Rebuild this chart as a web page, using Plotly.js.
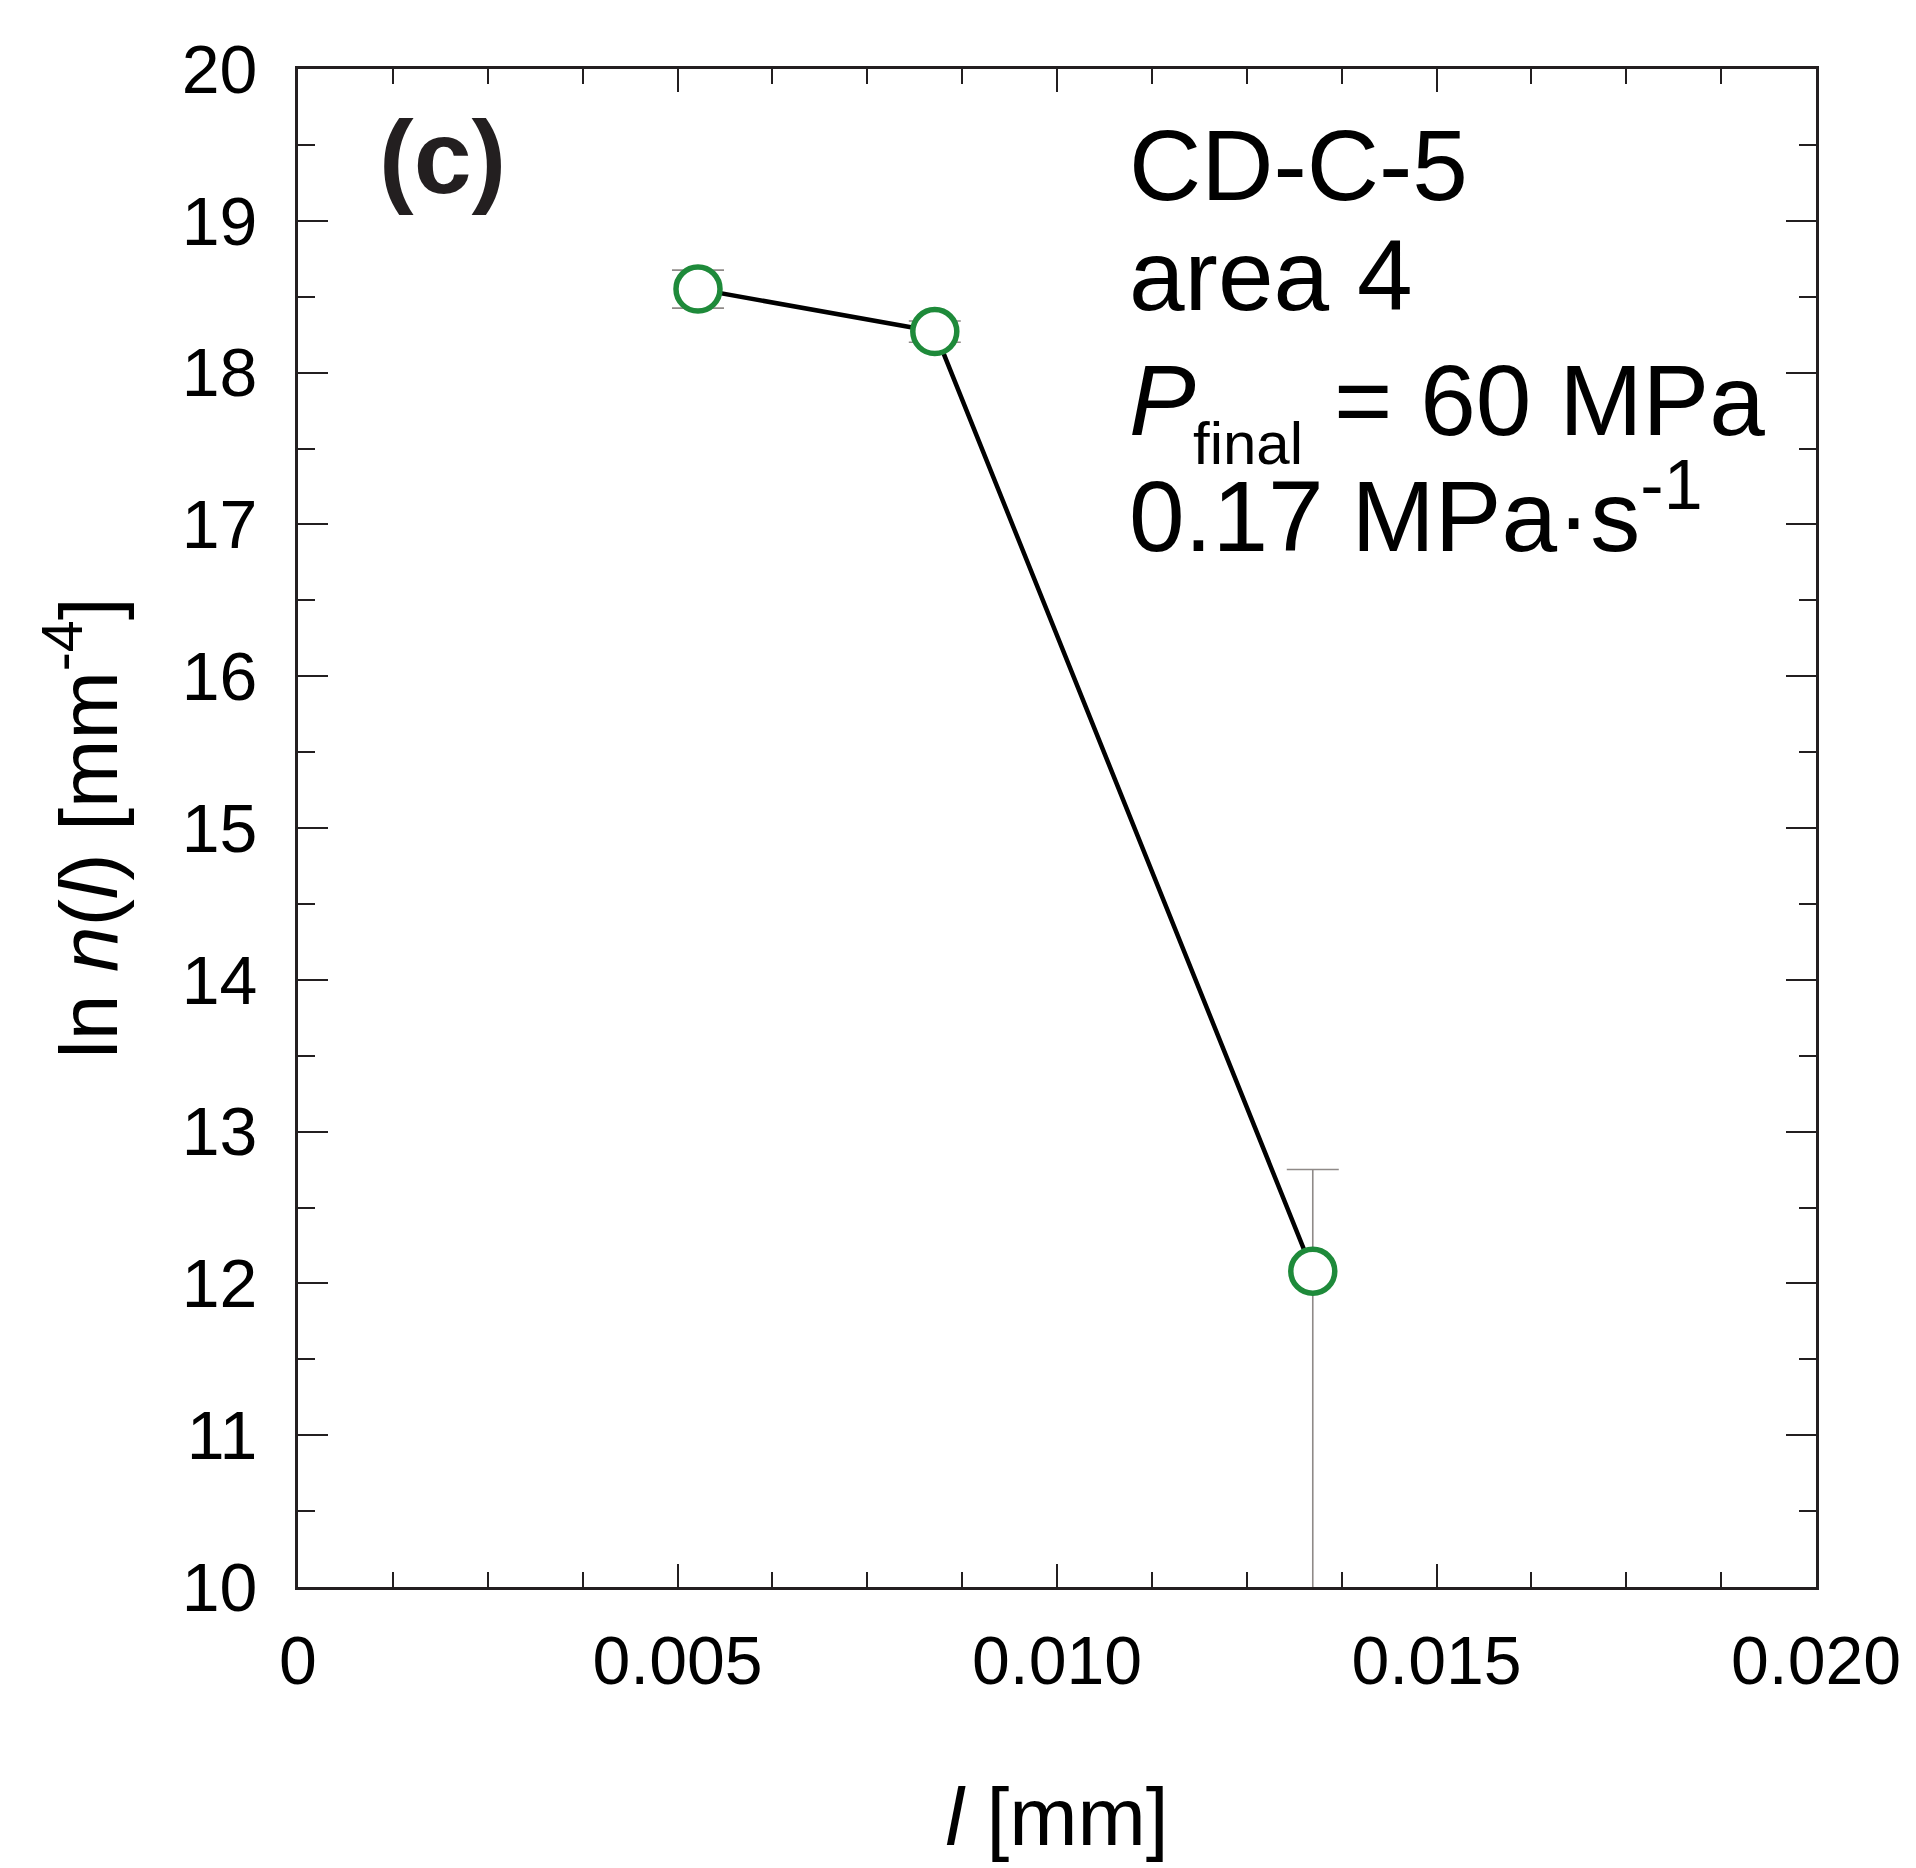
<!DOCTYPE html>
<html>
<head>
<meta charset="utf-8">
<script src="https://cdn.plot.ly/plotly-3.0.1.min.js"></script>
<style>
  html, body { margin: 0; padding: 0; background: #ffffff; }
  #chart { width: 1916px; height: 1868px; }
</style>
</head>
<body>
<div id="chart"></div>
<script>
// Data
const lengthMM = [0.00527, 0.00839, 0.01337];
const lnN = [18.55, 18.27, 12.08];
const errPlus = [0.125, 0.07, 0.67];
const errMinus = [0.125, 0.07, 4.0];

const xTickVals = [0, 0.005, 0.010, 0.015, 0.020];
const xTickText = ['0', '0.005', '0.010', '0.015', '0.020'];
const yTickVals = [10, 11, 12, 13, 14, 15, 16, 17, 18, 19, 20];
const yTickText = ['10', '11', '12', '13', '14', '15', '16', '17', '18', '19', '20'];

const panelLabel = '(c)';
const sampleText = 'CD-C-5';
const areaText = 'area 4';
const pressureSymbol = '<i>P</i>';
const pressureSub = 'final';
const pressureValue = '= 60 MPa';
const rateText = '0.17 MPa·s<sup>-1</sup>';

const FONT = 'Liberation Sans, Arial, Helvetica, sans-serif';

const trace = {
  x: lengthMM,
  y: lnN,
  type: 'scatter',
  mode: 'lines+markers',
  line: { color: '#000000', width: 4.5 },
  marker: {
    symbol: 'circle',
    size: 44,
    color: '#ffffff',
    line: { color: '#1e8a3a', width: 5.5 }
  },
  error_y: {
    type: 'data',
    symmetric: false,
    array: errPlus,
    arrayminus: errMinus,
    color: '#8f8a88',
    thickness: 1.6,
    width: 26
  },
  showlegend: false,
  hoverinfo: 'x+y'
};

function ann(text, x, y, size, anchor) {
  return {
    text: text,
    xref: 'paper', yref: 'paper',
    x: x, y: y,
    xanchor: anchor || 'left', yanchor: 'middle',
    showarrow: false,
    font: { family: FONT, size: size, color: '#000000' }
  };
}

const annotations = [
  ann('<b>' + panelLabel + '</b>', 0.0949, 0.942, 104, 'center'),
  ann(sampleText, 0.546, 0.9368, 100),
  ann(areaText, 0.546, 0.8643, 100),
  ann(pressureSymbol, 0.546, 0.782, 100),
  ann(pressureSub, 0.588, 0.753, 60),
  ann(pressureValue, 0.681, 0.782, 100),
  ann(rateText, 0.546, 0.710, 100)
];
annotations[0].font.color = '#231f20';

const layout = {
  width: 1916,
  height: 1868,
  paper_bgcolor: '#ffffff',
  plot_bgcolor: '#ffffff',
  margin: { l: 298, r: 100, t: 69, b: 281 },
  font: { family: FONT, color: '#000000' },
  xaxis: {
    range: [0, 0.020],
    tickvals: xTickVals,
    ticktext: xTickText,
    ticks: 'inside',
    ticklen: 23,
    tickwidth: 2,
    tickcolor: '#231f20',
    minor: { dtick: 0.00125, tick0: 0, ticks: 'inside', ticklen: 15, tickwidth: 2, tickcolor: '#231f20', showgrid: false },
    showline: true,
    linecolor: '#231f20',
    linewidth: 3,
    mirror: 'ticks',
    showgrid: false,
    zeroline: false,
    tickfont: { family: FONT, size: 68, color: '#000000' },
    ticklabelstandoff: 12,
    title: { text: '<i>l</i> [mm]', font: { family: FONT, size: 82, color: '#000000' }, standoff: 92 }
  },
  yaxis: {
    range: [10, 20],
    tickvals: yTickVals,
    ticktext: yTickText,
    ticks: 'inside',
    ticklen: 30,
    tickwidth: 2,
    tickcolor: '#231f20',
    minor: { dtick: 0.5, tick0: 10, ticks: 'inside', ticklen: 17, tickwidth: 2, tickcolor: '#231f20', showgrid: false },
    showline: true,
    linecolor: '#231f20',
    linewidth: 3,
    mirror: 'ticks',
    showgrid: false,
    zeroline: false,
    tickfont: { family: FONT, size: 68, color: '#000000' },
    ticklabelstandoff: 24,
    title: { text: 'ln <i>n</i>(<i>l</i>) [mm<sup>-4</sup>]', font: { family: FONT, size: 82, color: '#000000' }, standoff: 38 }
  },
  annotations: annotations
};

Plotly.newPlot('chart', [trace], layout, { displayModeBar: false, staticPlot: true });
</script>
</body>
</html>
